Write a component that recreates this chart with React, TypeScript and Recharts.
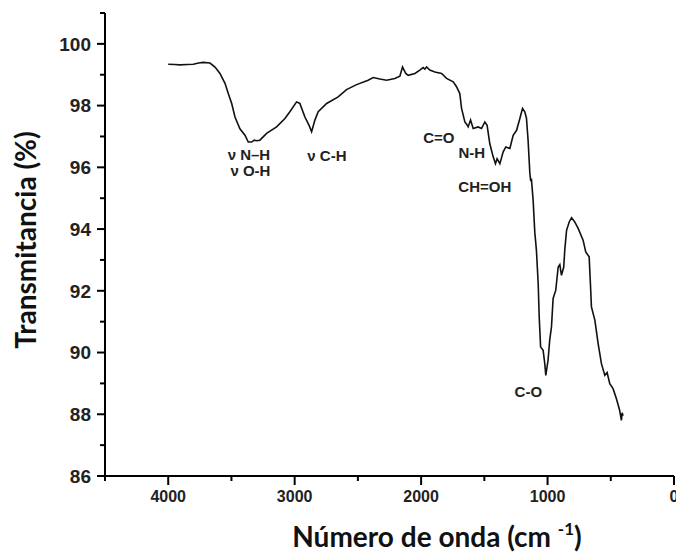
import { LineChart, Line, XAxis, YAxis, ReferenceDot } from "recharts"

// FTIR spectrum (wavenumber cm-1, transmittance %)
const wavenumbers = [
  4000, 3950, 3907, 3850, 3802, 3760, 3723, 3670, 3630, 3591, 3551, 3525, 3498, 3472, 3433, 3393,
  3367, 3340, 3320, 3301, 3275, 3222, 3143, 3077, 3038, 2985, 2959, 2919, 2885, 2866, 2840, 2814,
  2747, 2656, 2590, 2510, 2419, 2379, 2326, 2273, 2208, 2168, 2147, 2121, 2102, 2049, 2010, 1984,
  1970, 1957, 1931, 1891, 1838, 1799, 1746, 1720, 1694, 1680, 1654, 1640, 1628, 1609, 1588, 1549,
  1522, 1496, 1478, 1457, 1430, 1412, 1399, 1377, 1351, 1330, 1298, 1272, 1245, 1219, 1198, 1180,
  1167, 1154, 1140, 1133, 1128, 1114, 1101, 1088, 1074, 1066, 1055, 1035, 1022, 1014, 996, 983,
  969, 956, 935, 916, 903, 890, 872, 864, 850, 829, 810, 785, 758, 719, 698, 671,
  661, 653, 626, 600, 574, 547, 529, 508, 482, 456, 430, 416, 410, 403,
]
const transmittance = [
  99.34, 99.33, 99.32, 99.33, 99.34, 99.38, 99.4, 99.38, 99.25, 99.04, 98.72, 98.39, 98.07, 97.63, 97.25, 97.04,
  96.82, 96.82, 96.88, 96.86, 96.88, 97.1, 97.31, 97.58, 97.8, 98.12, 98.07, 97.63, 97.35, 97.15, 97.53, 97.8,
  98.07, 98.28, 98.52, 98.68, 98.82, 98.91, 98.86, 98.82, 98.88, 98.95, 99.25, 99.04, 98.98, 99.04, 99.15, 99.23,
  99.18, 99.25, 99.15, 99.09, 99.04, 98.88, 98.77, 98.61, 98.39, 97.91, 97.47, 97.4, 97.31, 97.53, 97.26, 97.31,
  97.26, 97.47, 97.36, 96.77, 96.34, 96.12, 96.28, 96.12, 96.5, 96.66, 96.61, 97.04, 97.2, 97.58, 97.91, 97.8,
  97.6, 96.88, 95.8, 95.55, 95.64, 94.93, 93.9, 93.31, 92.23, 91.15, 90.18, 90.07, 89.64, 89.26, 89.75, 90.4,
  90.83, 91.75, 92.02, 92.77, 92.85, 92.5, 92.77, 93.31, 93.95, 94.23, 94.37, 94.23, 94.02, 93.64, 93.26, 93.1,
  92.23, 91.48, 91.05, 90.29, 89.64, 89.26, 89.35, 88.99, 88.83, 88.51, 88.13, 87.8, 88.05, 87.95,
]

const xTicks = [4500, 4000, 3500, 3000, 2500, 2000, 1500, 1000, 500, 0]
const xLabelled = [4000, 3000, 2000, 1000, 0]
const yTicks = [86, 87, 88, 89, 90, 91, 92, 93, 94, 95, 96, 97, 98, 99, 100, 101]
const yLabelled = [86, 88, 90, 92, 94, 96, 98, 100]

const annotationText = ["ν N–H", "ν O-H", "ν C-H", "C=O", "N-H", "CH=OH", "C-O"]
const annotationWn = [3362, 3350, 2745, 1860, 1599, 1496, 1152]
const annotationT = [96.42, 95.88, 96.39, 96.96, 96.47, 95.38, 88.72]

const data = wavenumbers.map((wn, i) => ({ wn, t: transmittance[i] }))

const tickFont = "'Liberation Sans', Arial, sans-serif"
const titleFont = "Lato, 'Open Sans', sans-serif"

function XTick({ x, y, payload }: any) {
  const major = xLabelled.includes(payload.value)
  return (
    <g>
      <line x1={x} x2={x} y1={y - 15} y2={y - (major ? 6 : 10)} stroke="#000" strokeWidth={2} />
      {major && (
        <text x={x} y={y} dy="0.71em" textAnchor="middle" fontFamily={tickFont} fontWeight="bold" fontSize={16} fill="#222">
          {payload.value}
        </text>
      )}
    </g>
  )
}

function YTick({ x, y, payload }: any) {
  const major = yLabelled.includes(payload.value)
  return (
    <g>
      <line x1={x + 14} x2={x + (major ? 6 : 9)} y1={y} y2={y} stroke="#000" strokeWidth={2} />
      {major && (
        <text x={x} y={y} dy="0.36em" textAnchor="end" fontFamily={tickFont} fontWeight="bold" fontSize={19} fill="#222">
          {payload.value}
        </text>
      )}
    </g>
  )
}

function AnnotationShape(text: string) {
  return (props: any) => (
    <text
      x={props.cx}
      y={props.cy}
      dy="0.36em"
      textAnchor="middle"
      fontFamily={tickFont}
      fontWeight="bold"
      fontSize={15}
      fill="#222"
    >
      {text}
    </text>
  )
}

export default function App() {
  return (
    <div style={{ position: "absolute", left: 0, top: 0, width: 676, height: 554, background: "#fff" }}>
      <LineChart width={676} height={554} data={data} margin={{ top: 13, right: 2, left: 0, bottom: 0 }}>
        <XAxis
          type="number"
          dataKey="wn"
          domain={[0, 4500]}
          reversed
          ticks={xTicks}
          interval={0}
          allowDataOverflow
          height={78}
          tickSize={8}
          tickMargin={7}
          tickLine={false}
          axisLine={{ stroke: "#000", strokeWidth: 2 }}
          tick={<XTick />}
        />
        <YAxis
          type="number"
          domain={[86, 101]}
          ticks={yTicks}
          interval={0}
          allowDataOverflow
          width={105}
          tickSize={8}
          tickMargin={6}
          tickLine={false}
          axisLine={{ stroke: "#000", strokeWidth: 2 }}
          tick={<YTick />}
        />
        <Line
          type="linear"
          dataKey="t"
          stroke="#111"
          strokeWidth={1.6}
          dot={false}
          activeDot={false}
          isAnimationActive={false}
        />
        {annotationText.map((text, i) => (
          <ReferenceDot
            key={text}
            x={annotationWn[i]}
            y={annotationT[i]}
            r={0}
            shape={AnnotationShape(text)}
          />
        ))}
        <text
          x={36}
          y={240}
          transform="rotate(-90, 36, 240)"
          textAnchor="middle"
          fontFamily={titleFont}
          fontWeight="bold"
          fontSize={28}
          fill="#111"
        >
          Transmitancia (%)
        </text>
        <text x={437} y={547} textAnchor="middle" fontFamily={titleFont} fontWeight="bold" fontSize={28} fill="#111">
          Número de onda (cm{" "}
          <tspan fontSize={17} dy={-12}>-1</tspan>
          <tspan dy={12}>)</tspan>
        </text>
      </LineChart>
    </div>
  )
}
